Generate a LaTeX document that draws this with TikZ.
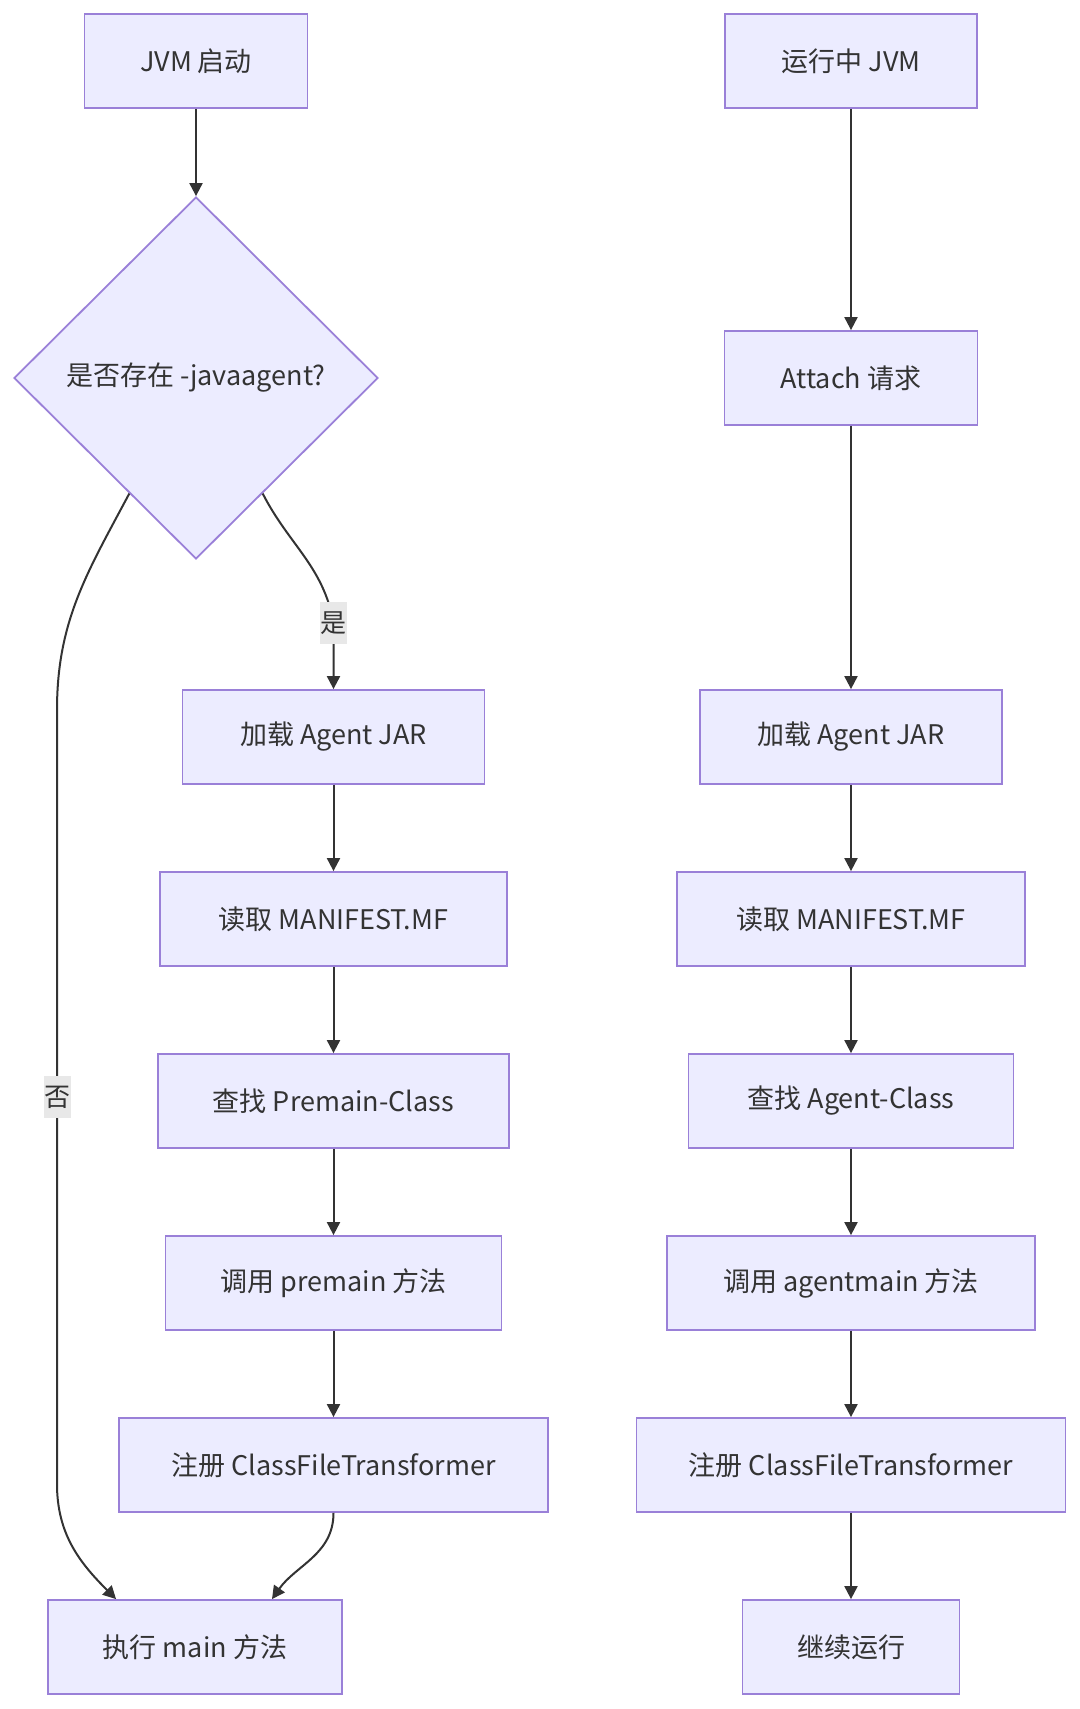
\documentclass[tikz,border=0pt]{standalone}
\usepackage{fontspec}
\setmainfont{Noto Sans CJK SC}
\usepackage{xcolor}
\usepackage{tikz}
\usetikzlibrary{shapes.geometric, arrows.meta, positioning}
\definecolor{boxfill}{HTML}{ECECFF}
\definecolor{boxline}{HTML}{9A80D8}
\definecolor{edgeline}{HTML}{333333}
\definecolor{labelbg}{HTML}{E8E8E8}
\tikzstyle{process} = [rectangle, minimum height=47pt, text centered, draw=boxline, fill=boxfill, line width=0.9pt, text=edgeline, font=\fontsize{13.5}{16}\selectfont]
\tikzstyle{arrow} = [draw=edgeline, line width=1pt, -{Triangle[length=6.5pt,width=6.5pt]}]

\begin{document}
\begin{tikzpicture}[node distance=91pt]
    \tikzset{decision/.style = {draw=boxline, fill=boxfill, shape=diamond, minimum width=182pt, minimum height=181pt, inner sep=0pt, line width=0.9pt, text=edgeline, font=\fontsize{13.5}{16}\selectfont},
    answer/.style = {fill=labelbg, text=edgeline, inner sep=0pt, minimum width=13.5pt, minimum height=21pt, font=\fontsize{13}{16}\selectfont}}

\useasboundingbox (0,0) rectangle (540pt,-854.5pt);

\node (start) [process, minimum width=111.5pt] at (98pt,-30.5pt) {JVM 启动};
\node (ask) [decision] at (98pt,-189pt) {是否存在 -javaagent?};
\draw [arrow] (start) -- (ask);

\node (load) [process, minimum width=151pt] at (166.75pt,-368.5pt) {加载 Agent JAR};
\node (manifest) [process, minimum width=173.5pt, below of=load] {读取 MANIFEST.MF};
\node (premain) [process, minimum width=175.5pt, below of=manifest] {查找 Premain-Class};
\node (callpre) [process, minimum width=168pt, below of=premain] {调用 premain 方法};
\node (register) [process, minimum width=214.5pt, below of=callpre] {注册 ClassFileTransformer};
\node (main) [process, minimum width=147pt] at (97.5pt,-823.5pt) {执行 main 方法};
\coordinate (yesmark) at (166.75pt,-311.5pt);
\draw [arrow] (ask.-60) to[out=-63,in=100] (yesmark) node[answer] {是} -- (load);
\draw [arrow] (load) -- (manifest);
\draw [arrow] (manifest) -- (premain);
\draw [arrow] (premain) -- (callpre);
\draw [arrow] (callpre) -- (register);
\draw [arrow] (register) to[out=-90,in=55] ([xshift=38.5pt]main.north);

\coordinate (nobend) at (28.5pt,-355pt);
\coordinate (noturn) at (28.5pt,-742pt);
\draw [arrow] (ask.-120) to[out=-118,in=90] (nobend) -- node[answer] {否} (noturn) to[out=-90,in=135] ([xshift=34.5pt]main.north west);

\node (running) [process, minimum width=126pt] at (425.5pt,-30.5pt) {运行中 JVM};
\node (attach) [process, minimum width=126.5pt] at (425.5pt,-189pt) {Attach 请求};
\node (rload) [process, minimum width=151pt] at (425.5pt,-368.5pt) {加载 Agent JAR};
\node (rmanifest) [process, minimum width=174pt, below of=rload] {读取 MANIFEST.MF};
\node (agentcls) [process, minimum width=162.5pt, below of=rmanifest] {查找 Agent-Class};
\node (callagent) [process, minimum width=184pt, below of=agentcls] {调用 agentmain 方法};
\node (rregister) [process, minimum width=214.5pt, below of=callagent] {注册 ClassFileTransformer};
\node (goon) [process, minimum width=108.5pt, below of=rregister] {继续运行};
\draw [arrow] (running) -- (attach);
\draw [arrow] (attach) -- (rload);
\draw [arrow] (rload) -- (rmanifest);
\draw [arrow] (rmanifest) -- (agentcls);
\draw [arrow] (agentcls) -- (callagent);
\draw [arrow] (callagent) -- (rregister);
\draw [arrow] (rregister) -- (goon);

\end{tikzpicture}
\end{document}
